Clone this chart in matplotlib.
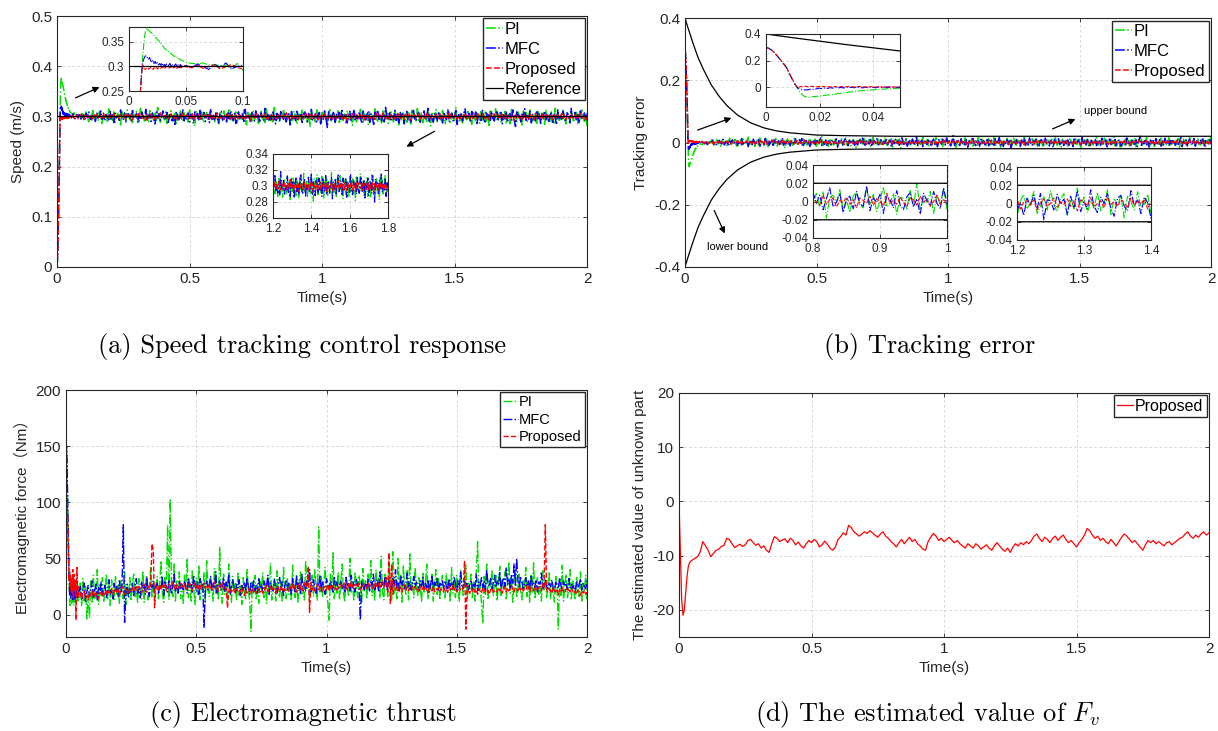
import numpy as np
import matplotlib.pyplot as plt
from matplotlib.ticker import FormatStrFormatter

plt.rcParams['font.family'] = ['Liberation Sans', 'DejaVu Sans', 'Noto Sans CJK SC']
plt.rcParams['mathtext.fontset'] = 'cm'

W, H = 1218, 731
ref_speed = 0.3

# ---- speed tracking error (units of 1e-3 m/s) ----
# start-up ramp, sampled every 1 ms (shared by all controllers)
err_ramp = [300, 292, 280, 262, 240, 215, 190, 165, 135, 90, 52, 15]
# 12 ms .. 49 ms, every 1 ms
err_pi_start = [-20, -46, -66, -74, -78, -73, -72, -69, -68, -64,
                -63, -59, -58, -54, -53, -47, -47, -42, -41, -37,
                -36, -32, -32, -28, -28, -25, -24, -21, -21, -18,
                -19, -15, -16, -13, -13, -11, -11, -9]
err_mfc_start = [-8, -15, -20, -22, -18, -14, -18, -12, -8, -13,
                 -6, -10, -4, -8, -3, -6, -2, -7, 1, -4,
                 -1, -5, 2, -3, -6, 0, -4, 2, -2, -5,
                 1, -3, 3, -4, -1, 2, -3, 0]
err_prop_start = [-3, 4, 6, 5, 3, 6, 4, 2, 5, 6,
                  3, 4, 1, 5, 3, 2, 4, 1, 3, 5,
                  2, 0, 3, 4, 1, 2, -1, 3, 2, 0,
                  4, 1, -2, 2, 3, 0, 1, -1]
# 0.05 s .. 2 s, every 5 ms
err_pi = [
    -8, -6, -5, -7, -3, -4, -1, -3, 5, -6, 8, -2, -9, 4, 11, -5, 2, -12, 7, 0,
    -4, 9, -10, 3, 14, -7, 1, -3, 10, -15, 6, -2, 8, -9, 12, -1, -6, 4, 17, -11,
    3, -5, 9, -13, 0, 7, -8, 15, -4, 2, -10, 6, 11, -16, 5, -2, 9, -7, 1, 13,
    -12, 4, -3, 10, -6, 8, -18, 3, 12, -5, -1, 7, -9, 14, -3, 5, -11, 2, 9, -8,
    16, -4, 1, -13, 6, 10, -7, 3, -2, 11, -15, 8, -5, 4, 19, -10, 0, 7, -6, -12,
    5, 13, -3, -8, 9, 1, -14, 6, -2, 12, -9, 4, 15, -7, -1, 8, -11, 3, 10, -5,
    -16, 7, 2, 11, -4, -9, 13, -6, 5, -1, 9, -13, 4, 17, -8, 1, -5, 10, -12, 6,
    3, -7, 14, -2, -10, 8, 0, 12, -15, 5, -3, 9, -6, 11, -18, 4, 7, -1, 13, -9,
    2, -12, 6, 10, -4, -7, 15, -3, 8, -11, 1, 16, -6, -2, 9, -14, 5, 3, -8, 12,
    -5, 20, -9, 4, -1, 11, -13, 7, -3, 14, -8, 2, -10, 6, 12, -4, -16, 9, 1, -6,
    10, -2, -11, 15, -7, 3, 8, -5, 13, -12, 0, 6, -9, 18, -3, -6, 11, -1, 4, -14,
    7, 12, -8, 2, -4, 16, -10, 5, -2, 9, -15, 3, 10, -6, 1, 13, -11, -3, 8, -7,
    14, -1, -9, 5, 11, -13, 4, -6, 17, -2, 7, -10, 3, -5, 12, -8, 1, 15, -12, 6,
    -3, 9, -16, 8, 2, -7, 13, -4, -1, 10, -11, 6, 19, -9, 0, 5, -14, 11, -2, -6,
    8, -12, 3, 15, -5, 1, -9, 12, -7, 4, 10, -17, 6, -1, 9, -4, 13, -10, 2, 7,
    -13, 5, -2, 16, -8, 3, 11, -6, -3, 14, -12, 7, 1, -9, 10, -5, 18, -11, 4, -1,
    9, -15, 6, 2, -7, 12, -4, 8, -10, 13, 0, -6, 15, -14, 3, 7, -2, 11, -9, 5,
    -3, 17, -11, 4, -8, 10, 1, -13, 6, 9, -5, -1, 14, -10, 2, 12, -7, -4, 16, -12,
    6, -2, 10, -9, 3, 13, -16, 5, -6, 11, -1, 8, -12, 4, 15, -7, 0, 9, -11, 3,
    12, -5, -8, 14, -3, 7, -13, 2, 10, -6, 18, -9, 1, -4, 11, -15, 6, 3, -10, 8]
err_mfc = [
    -2, 3, -5, 1, 6, -4, 2, -7, 5, 0, -3, 8, -6, 2, -9, 4, 7, -1, -5, 10,
    -8, 3, 1, -11, 6, -2, 9, -4, 0, 7, -10, 5, -3, 12, -6, 2, -1, 8, -13, 4,
    6, -7, 11, -2, -5, 3, 9, -12, 4, 0, -6, 13, -3, 7, -9, 1, 5, -14, 8, -1,
    -4, 10, -7, 2, 15, -9, 3, -5, 8, -1, -11, 6, 4, -8, 12, -3, -6, 9, -2, 16,
    -10, 1, 7, -5, 3, -13, 9, -2, 5, -7, 11, -4, 0, 14, -9, 2, -6, 8, -12, 5,
    3, -8, 10, -1, -4, 12, -15, 6, -2, 9, -7, 4, 13, -5, -10, 7, 1, -3, 11, -9,
    5, -12, 2, 8, -6, 14, -3, -9, 7, 0, -5, 10, -14, 3, 6, -2, 12, -8, -1, 9,
    -11, 4, -3, 13, -7, 1, 8, -16, 5, -4, 10, -2, 7, -9, 3, 15, -6, -1, 9, -12,
    2, 6, -8, 11, -3, -5, 17, -10, 4, -1, 8, -13, 6, 2, -7, 12, -4, -9, 5, 10,
    -6, 3, -14, 9, 1, -5, 11, -2, -8, 15, -3, 6, -11, 4, 22, -9, 0, 7, -5, -10,
    12, -4, 3, -8, 9, -15, 5, 1, -6, 13, -2, -10, 8, 4, -12, 10, -3, 6, -7, 2,
    14, -11, 0, 7, -4, -9, 12, -5, 3, 16, -8, 1, -13, 6, -2, 9, -6, 11, -18, 4,
    3, -7, 10, -1, 5, -12, 8, -4, 13, -9, 2, -6, 15, -3, -10, 7, 0, 11, -5, -14,
    6, 9, -3, -8, 14, -2, 4, -11, 7, 1, -16, 10, -5, 3, 12, -7, -1, 8, -10, 5,
    -4, 13, -9, 2, 6, -13, 11, -3, -6, 9, 0, -12, 16, -5, 4, -8, 10, -2, -15, 7,
    1, -6, 12, -10, 5, 3, -9, 14, -4, -1, 8, -14, 6, 11, -7, 2, -3, 10, -11, 4,
    9, -5, -12, 7, 2, -8, 15, -3, 4, -10, 12, -1, -6, 9, -13, 5, 20, -9, 1, -4,
    11, -7, 3, -15, 8, -2, 6, -10, 13, -4, 0, 9, -12, 5, -8, 14, -3, 2, -11, 7,
    -5, 10, -1, -9, 12, -6, 3, 17, -13, 4, -2, 8, -10, 6, 11, -7, -3, 13, -16, 5,
    2, -8, 9, -4, 14, -11, 6, 1, -7, 10, -3, -12, 8, 3, -9, 13, -5, 0, 11, -6]
err_prop = [
    1, 3, -2, 4, 0, -3, 5, 1, -4, 2, 6, -1, -5, 3, 0, 4, -2, 7, -3, 1,
    -4, 2, 5, -1, 3, -6, 1, 4, -2, 0, 6, -3, 2, -5, 4, 1, -1, 5, -4, 3,
    0, -2, 6, -5, 2, 3, -4, 7, -1, 1, -3, 5, -6, 2, 4, -2, 0, 8, -4, 1,
    3, -5, 2, -1, 6, -3, 4, 0, -7, 2, 5, -2, 1, -4, 3, 6, -5, 2, -1, 4,
    -3, 7, 0, -2, 4, -6, 3, 1, -4, 5, -1, 2, -5, 8, -2, 0, 3, -4, 6, -1,
    2, -5, 4, 1, -3, 6, -2, -4, 5, 0, 3, -7, 2, 4, -1, -3, 6, 1, -5, 3,
    -2, 5, -4, 2, 7, -3, 0, 4, -6, 1, 3, -2, 5, -5, 2, -1, 8, -4, 0, 3,
    -6, 2, 4, -1, -3, 5, 1, -5, 3, 6, -2, 0, -4, 7, -3, 2, 4, -6, 1, -1,
    5, -3, 2, -7, 4, 1, -2, 6, -4, 3, 0, -5, 9, -2, 1, -3, 5, -1, -6, 4,
    2, -4, 6, -1, 3, -5, 0, 7, -3, 2, -2, 5, -6, 1, 4, -3, 3, -1, 6, -5,
    1, 4, -3, 2, -6, 5, -1, 3, -4, 8, -2, 0, 4, -5, 2, 6, -3, -1, 5, -4,
    3, -2, 7, -5, 1, 2, -4, 5, -1, -3, 6, -6, 2, 3, -2, 4, -7, 1, 5, -3,
    0, 6, -4, 2, -1, 5, -3, 3, -8, 4, 1, -2, 6, -4, 0, 3, -5, 7, -1, 2,
    -3, 4, 1, -5, 6, -2, 3, -1, 5, -6, 2, -3, 8, -2, 1, 4, -4, 0, 3, -5,
    5, -1, -4, 3, 2, -6, 7, -3, 1, 4, -2, -5, 6, 0, -3, 5, -1, 2, -7, 4,
    1, -3, 5, -2, 4, -4, 0, 6, -5, 2, 3, -1, -6, 5, -2, 1, 7, -4, 3, -1,
    -5, 3, 2, -3, 6, -1, -4, 4, 1, -6, 5, -2, 3, 0, -4, 8, -3, 2, -1, 4,
    -2, 6, -5, 1, 3, -3, 5, -4, 2, -1, 7, -6, 1, 4, -2, 3, -5, 6, 0, -3,
    4, -1, 2, -5, 6, -3, 0, 5, -4, 3, 1, -6, 4, -2, 7, -1, -3, 5, -5, 2,
    3, -4, 1, 6, -2, -5, 4, 0, -3, 7, -1, 2, -6, 3, 5, -4, 1, -2, 6, -3]

# ---- prescribed performance bound ----
bound_t = [0, 0.01, 0.02, 0.03, 0.04, 0.05, 0.07, 0.1, 0.13, 0.16, 0.2,
           0.25, 0.3, 0.35, 0.4, 0.5, 0.6, 0.7, 0.8, 1.0, 1.5, 2.0]
bound_v = [0.4, 0.372, 0.346, 0.32, 0.296, 0.272, 0.235, 0.185, 0.148, 0.118, 0.088,
           0.063, 0.047, 0.037, 0.031, 0.024, 0.022, 0.021, 0.02, 0.02, 0.02, 0.02]

# ---- electromagnetic force (Nm) ----
# 0 .. 48 ms every 2 ms
force_pi_start = [0, 145, 120, 105, 80, 50, 30, 12, 8, 15, 22, 10, 18, 12, 25, 8, 20, 14, 28, 10,
                  22, 16, 30, 12, 20]
force_mfc_start = [0, 150, 135, 110, 85, 55, 30, 18, 25, 14, 22, 17, 28, 12, 20, 24, 15, 27, 13, 21,
                   18, 26, 14, 22, 19]
force_prop_start = [0, 60, 100, 90, 70, 45, 30, 38, 25, 35, 20, 32, 18, 40, 15, 28, 36, 22, 30, -5,
                    18, 42, 20, 25, 16]
# 0.05 s .. 2 s every 5 ms
force_pi = [
    15, 28, 8, 32, 12, 25, -4, 18, -3, 30, 10, 35, 14, 22, 40, 9, 27, 16, 33, 11,
    24, 36, 13, 29, 8, 31, 19, 12, 34, 17, 26, 10, 30, 21, 14, 38, 9, 27, 15, 33,
    12, 28, 36, 16, 24, 10, 32, 20, 14, 39, 11, 27, 35, 13, 25, 42, 15, 30, 12, 26,
    34, 14, 28, 48, 19, 11, 33, 22, 80, 13, 103, 25, 16, 45, 12, 30, 21, 38, 14, 27,
    10, 35, 22, 50, 15, 28, 12, 40, 24, 9, 33, 18, 44, 13, 29, 20, 37, 11, 48, 23,
    16, 32, 25, 12, 41, 19, 27, 14, 60, 22, 10, 36, 18, 30, 13, 45, 24, 11, 34, 20,
    28, 12, 38, 17, 26, 9, 33, 21, 14, 40, 23, 11, -15, 29, 18, 35, 13, 27, 10, 31,
    22, 37, 15, 28, 10, 34, 19, 46, 13, 25, 32, 12, 39, 20, 16, 30, 11, 42, 24, 14,
    33, 18, 27, 12, 44, 21, 15, 36, 10, 29, 38, 17, 24, 13, 48, 22, 31, 14, 26, 35,
    16, 40, 25, 12, 78, 20, 34, 15, 28, 42, 18, 11, -5, 36, 22, 55, 14, 30, 19, 38,
    13, 27, 45, 20, 11, 33, 24, 16, 50, 19, 29, 12, 38, 23, 15, 35, 26, 10, 41, 21,
    30, 14, 36, 22, 48, 17, 27, 12, 40, 25, 33, 15, 52, 20, 13, 37, 28, 16, 45, 24,
    12, 56, 19, 31, 14, 50, 22, 35, 11, 44, 26, 17, 39, 13, 54, 21, 30, 15, 42, 24,
    16, 33, 25, 11, 38, 20, 28, 45, 14, 30, 22, 36, 12, 27, 40, 18, 32, 13, 26, 35,
    20, 14, 37, 24, 30, 11, 42, 19, 27, 15, 35, 22, 12, 40, 26, 17, 31, 44, 13, 28,
    23, 36, 15, 29, 12, 38, 65, 20, 26, 10, -8, 34, 18, 45, 13, 30, 24, 40, 16, 27,
    35, 12, 28, 43, 17, 31, 22, 38, 14, 26, 47, 19, 33, 11, 29, 40, 15, 24, 36, 21,
    13, 30, 23, 42, 16, 28, 11, 35, 20, 46, 14, 27, 33, 18, 25, 12, 39, 22, 30, 15,
    26, 38, 13, 29, 20, 11, 34, 24, -13, 31, 17, 44, 12, 27, 36, 15, 23, 40, 14, 30,
    21, 13, 33, 25, 16, 38, 12, 28, 22, 35, 14, 30, 19, 26, 13, 34, 20, 27, 15, 24]
force_mfc = [
    18, 25, 14, 22, 28, 12, 20, 26, 16, 23, 30, 15, 21, 27, 13, 24, 19, 29, 17, 22,
    26, 15, 23, 31, 18, 22, 14, 28, 20, 25, 16, 30, 19, 24, 80, -7, 21, 27, 15, 23,
    20, 28, 17, 25, 32, 19, 23, 15, 29, 21, 26, 18, 33, 22, 16, 27, 24, 30, 19, 25,
    28, 19, 26, 22, 34, 17, 29, 24, 20, 31, 25, 18, 27, 36, 21, 26, 19, 30, 23, 28,
    22, 30, 25, 19, 33, 24, 28, 20, 35, 26, 21, 29, 18, 32, 25, 27, -12, 24, 30, 22,
    26, 34, 21, 28, 23, 38, 19, 27, 30, 22, 25, 33, 20, 29, 24, 36, 18, 26, 31, 23,
    19, 27, 24, 31, 17, 26, 22, 29, 20, 33, 25, 18, 28, 23, 30, 21, 26, 19, 32, 24,
    27, 20, 30, 23, 26, 35, 18, 28, 24, 21, 31, 25, 19, 27, 33, 22, 29, 17, 26, 30,
    22, 29, 25, 18, 32, 26, 20, 34, 23, 28, 19, 37, 24, 27, 21, 30, 25, 40, 20, 26,
    31, 23, 19, 28, 26, 35, 21, 29, 24, 18, 32, 27, 22, 30, 25, 20, 33, 26, 29, 23,
    25, 30, 22, 27, 19, 33, 26, 28, 21, 35, 24, 29, 20, 31, 26, 23, -5, 30, 27, 22,
    28, 24, 32, 21, 29, 26, 36, 22, 27, 31, 20, 38, 25, 29, 23, 34, 27, 21, 30, 26,
    22, 33, 27, 40, 24, 29, 21, 35, 26, 31, 23, 28, 37, 25, 30, 22, 27, 34, 24, 29,
    26, 21, 30, 25, 33, 22, 28, 24, 31, 20, 27, 35, 23, 29, 26, 32, 21, 28, 25, 30,
    23, 29, 26, 20, 32, 25, 28, 22, 34, 27, 21, 30, 24, 38, 26, 23, 31, 25, 29, 22,
    27, 31, 23, 28, 25, 36, 21, 29, 26, 33, 24, 30, 22, 40, 27, 25, 32, 23, 28, 35,
    24, 30, 26, 38, 22, 29, 33, 25, 42, 27, 31, 23, 36, 28, 45, 26, 50, 30, 24, 34,
    29, 23, 27, 33, 25, 30, 22, 35, 26, 28, 24, 31, 20, 29, 27, 37, 23, 26, 32, 25,
    22, 28, 25, 31, 24, 20, 29, 27, 23, 33, 26, 21, 30, 25, 28, 22, 32, 24, 27, 23,
    26, 21, 29, 24, 27, 32, 22, 28, 25, 23, 30, 26, 21, 27, 24, 29, 22, 26, 25, 20]
force_prop = [
    16, 19, 14, 18, 21, 15, 17, 13, 20, 16, 18, 22, 15, 19, 17, 14, 20, 18, 16, 21,
    18, 22, 17, 21, 19, 23, 18, 20, 24, 19, 22, 17, 21, 25, 20, 18, 23, 21, 19, 22,
    21, 24, 20, 23, 26, 21, 25, 22, 19, 24, 27, 22, 20, 25, 23, 26, 63, 58, 6, 24,
    25, 22, 27, 23, 26, 24, 28, 21, 25, 27, 23, 26, 29, 24, 22, 27, 25, 23, 28, 26,
    23, 27, 25, 22, 26, 28, 24, 21, 25, 29, 23, 26, 24, 22, 27, 25, 28, 23, 26, 24,
    27, 24, 22, 26, 29, 23, 25, 21, 27, 24, 28, 22, 25, 23, 6, 21, 24, 20, 23, 22,
    19, 23, 21, 18, 22, 24, 20, 17, 22, 19, 23, 21, 18, 24, 20, 22, 19, 21, 23, 20,
    22, 19, 24, 21, 26, 20, 23, 25, 21, 24, 22, 19, 25, 23, 20, 26, 22, 24, 21, 23,
    24, 21, 25, 23, 27, 22, 26, 20, 24, 28, 23, 25, 21, 30, 26, 24, 43, 2, 29, 22,
    25, 21, 24, 27, 22, 26, 23, 20, 25, 24, 22, 27, 21, 25, 23, 26, 22, 24, 21, 25,
    24, 27, 23, 26, 28, 25, 22, 27, 24, 29, 25, 23, 27, 26, 24, 28, 22, 26, 25, 27,
    26, 23, 28, 25, 27, 24, 22, 29, 26, 25, 28, 23, 27, 30, 24, 26, 33, 20, 55, 10,
    45, 18, 27, 22, 25, 21, 26, 23, 20, 24, 27, 22, 25, 21, 24, 26, 22, 23, 25, 21,
    23, 20, 25, 22, 24, 21, 26, 22, 19, 24, 23, 21, 25, 20, 23, 22, 24, 21, 23, 20,
    21, 24, 22, 20, 25, 23, 21, 26, 22, 24, 20, 23, 25, 21, 22, 24, 48, -13, 26, 21,
    19, 23, 21, 24, 20, 22, 18, 23, 21, 19, 24, 22, 20, 23, 21, 18, 22, 24, 20, 21,
    22, 20, 24, 21, 23, 19, 25, 22, 20, 24, 21, 23, 26, 22, 20, 24, 23, 21, 25, 22,
    24, 21, 23, 26, 22, 25, 20, 24, 23, 21, 26, 22, 24, 23, 25, 21, 27, 23, 80, 22,
    20, 23, 21, 19, 24, 22, 20, 23, 18, 22, 21, 24, 20, 19, 23, 21, 22, 20, 24, 21,
    19, 21, 18, 22, 20, 17, 21, 19, 22, 18, 20, 21, 19, 17, 21, 20, 18, 22, 19, 20]

# ---- estimated unknown part F_v ----
# 0 .. 45 ms every 5 ms
fv_start = [0, -9, -18, -21, -20, -17, -14, -12, -11.3, -11]
# 0.05 s .. 2 s every 10 ms
fv = [
    -10.8, -10.5, -10.2, -9.3, -7.4, -8.2, -9.0, -10.2, -9.6, -9.0,
    -8.8, -8.3, -8.1, -6.8, -7.0, -7.8, -8.5, -8.2, -7.9, -8.3,
    -8.0, -7.2, -7.0, -7.6, -8.1, -7.8, -8.6, -8.2, -9.0, -9.4,
    -7.8, -6.5, -6.8, -7.4, -7.1, -6.9, -7.6, -6.8, -7.2, -8.0,
    -7.5, -8.2, -8.6, -7.8, -7.2, -7.6, -7.0, -7.4, -8.4, -8.0,
    -7.3, -7.9, -8.6, -9.0, -8.4, -7.0, -6.5, -5.8, -6.2, -4.4,
    -4.8, -5.6, -6.0, -6.4, -6.0, -5.6, -5.9, -5.4, -5.8, -6.2,
    -6.6, -6.0, -5.6, -6.4, -6.8, -7.4, -7.8, -8.4, -7.6, -7.0,
    -7.8, -7.2, -6.6, -7.4, -7.0, -7.8, -8.2, -8.8, -9.0, -7.4,
    -6.6, -5.9, -6.4, -7.2, -6.8, -7.4, -7.0, -6.6, -7.2, -7.6,
    -7.2, -7.8, -8.2, -8.6, -7.8, -8.2, -8.6, -7.8, -8.2, -8.8,
    -8.4, -8.0, -8.6, -9.0, -8.2, -7.6, -8.2, -8.8, -9.2, -8.6,
    -9.4, -8.4, -7.8, -8.2, -7.6, -8.0, -7.4, -7.8, -7.2, -6.4,
    -6.0, -6.8, -7.4, -6.6, -7.0, -7.6, -6.8, -6.4, -7.2, -6.6,
    -6.2, -7.0, -7.6, -7.2, -7.8, -8.4, -7.6, -7.0, -6.2, -5.0,
    -5.4, -6.2, -6.8, -6.4, -7.2, -6.8, -7.4, -7.8, -7.0, -7.6,
    -8.2, -7.4, -6.6, -6.0, -6.4, -7.0, -7.6, -7.2, -7.8, -8.4,
    -9.0, -8.0, -7.2, -7.6, -7.2, -7.8, -7.4, -7.8, -8.2, -7.6,
    -7.4, -8.0, -7.6, -7.2, -6.8, -6.6, -6.0, -5.6, -6.4, -6.8,
    -6.2, -6.6, -6.0, -5.6, -6.2, -5.8]

labels = ['PI', 'MFC', 'Proposed']
colors = ['#00dd00', '#0000ff', '#ff0000']
styles = ['-.', '-.', '--']


def join(start, dt_start, main, t0, dt):
    t = np.concatenate([dt_start * np.arange(len(start)), t0 + dt * np.arange(len(main))])
    return t, np.concatenate([np.asarray(start, float), np.asarray(main, float)])


def px_axes(fig, x0, y0, x1, y1):
    return fig.add_axes([x0 / W, 1 - y1 / H, (x1 - x0) / W, (y1 - y0) / H])


def fig_xy(x, y):
    return (x / W, 1 - y / H)


def style(ax, fs):
    ax.tick_params(direction='in', top=True, right=True, labelsize=fs,
                   colors='#262626', length=3, width=0.6)
    ax.grid(True, ls=(0, (3, 3)), color='#cfcfcf', lw=0.6)
    for s in ax.spines.values():
        s.set_color('#262626')
        s.set_linewidth(0.8)
    ax.xaxis.set_major_formatter(FormatStrFormatter('%g'))
    ax.yaxis.set_major_formatter(FormatStrFormatter('%g'))


def arrow(fig, x0, y0, x1, y1):
    fig.add_artist(plt.Annotation('', xy=fig_xy(x1, y1), xytext=fig_xy(x0, y0),
                                  xycoords='figure fraction', textcoords='figure fraction',
                                  arrowprops=dict(arrowstyle='-|>', color='black', lw=0.9,
                                                  mutation_scale=9)))


def legend(ax, fs, sp):
    ax.legend(loc='upper right', fontsize=fs, handlelength=1.0, handletextpad=0.1,
              labelspacing=sp, borderpad=0.2, borderaxespad=0.15, fancybox=False,
              edgecolor='#262626', framealpha=1)


err_series = []
for st, mn in [(err_pi_start, err_pi), (err_mfc_start, err_mfc), (err_prop_start, err_prop)]:
    t, e = join(err_ramp + st, 0.001, mn, 0.05, 0.005)
    err_series.append((t, e / 1000.0))

force_series = [join(s, 0.002, m, 0.05, 0.005) for s, m in
                [(force_pi_start, force_pi), (force_mfc_start, force_mfc),
                 (force_prop_start, force_prop)]]
t_fv, v_fv = join(fv_start, 0.005, fv, 0.05, 0.01)
bt = np.array(bound_t)
bv = np.array(bound_v)

fig = plt.figure(figsize=(W / 100, H / 100), dpi=100)

# ---------- (a) speed ----------
axa = px_axes(fig, 57, 16, 587, 267)
for (t, e), lab, c, ls in zip(err_series, labels, colors, styles):
    axa.plot(t, ref_speed - e, color=c, ls=ls, lw=1.1, label=lab)
axa.plot([0, 2], [ref_speed, ref_speed], color='black', lw=0.9, label='Reference')
axa.set_xlim(0, 2)
axa.set_ylim(0, 0.5)
axa.set_xticks([0, 0.5, 1, 1.5, 2])
axa.set_yticks(np.arange(0, 0.51, 0.1))
style(axa, 11)
axa.set_xlabel('Time(s)', fontsize=11, color='#262626')
axa.set_ylabel('Speed (m/s)', fontsize=11, color='#262626')
legend(axa, 12, 0.3)

ins = px_axes(fig, 129, 27, 243, 91)
for (t, e), c, ls in zip(err_series, colors, styles):
    ins.plot(t, ref_speed - e, color=c, ls=ls, lw=0.8)
ins.plot([0, 2], [ref_speed, ref_speed], color='black', lw=0.9)
ins.set_xlim(0, 0.1)
ins.set_ylim(0.25, 0.38)
ins.set_xticks([0, 0.05, 0.1])
ins.set_yticks([0.25, 0.3, 0.35])
style(ins, 8.5)

ins = px_axes(fig, 273, 154, 388, 218)
for (t, e), c, ls in zip(err_series, colors, styles):
    ins.plot(t, ref_speed - e, color=c, ls=ls, lw=0.9)
ins.set_xlim(1.2, 1.8)
ins.set_ylim(0.26, 0.34)
ins.set_xticks([1.2, 1.4, 1.6, 1.8])
ins.set_yticks([0.26, 0.28, 0.3, 0.32, 0.34])
style(ins, 8.5)

arrow(fig, 73, 99, 102, 86)
arrow(fig, 437, 130, 404, 148)

# ---------- (b) tracking error ----------
axb = px_axes(fig, 685, 18, 1211, 267)
for (t, e), lab, c, ls in zip(err_series, labels, colors, styles):
    axb.plot(t, e, color=c, ls=ls, lw=1.1, label=lab)
axb.plot(bt, bv, color='black', lw=0.9)
axb.plot(bt, -bv, color='black', lw=0.9)
axb.set_xlim(0, 2)
axb.set_ylim(-0.4, 0.4)
axb.set_xticks([0, 0.5, 1, 1.5, 2])
axb.set_yticks([-0.4, -0.2, 0, 0.2, 0.4])
style(axb, 11)
axb.set_xlabel('Time(s)', fontsize=11, color='#262626')
axb.set_ylabel('Tracking error', fontsize=11, color='#262626')
legend(axb, 12, 0.3)

for (x0, y0, x1, y1), xl, yl, xt, yt in [
        ((766, 34, 900, 107), (0, 0.05), (-0.15, 0.4), [0, 0.02, 0.04], [0, 0.2, 0.4]),
        ((813, 165, 947, 238), (0.8, 1.0), (-0.04, 0.04), [0.8, 0.9, 1.0],
         [-0.04, -0.02, 0, 0.02, 0.04]),
        ((1017, 167, 1151, 240), (1.2, 1.4), (-0.04, 0.04), [1.2, 1.3, 1.4],
         [-0.04, -0.02, 0, 0.02, 0.04])]:
    ins = px_axes(fig, x0, y0, x1, y1)
    for (t, e), c, ls in zip(err_series, colors, styles):
        ins.plot(t, e, color=c, ls=ls, lw=0.8)
    ins.plot(bt, bv, color='black', lw=0.9)
    ins.plot(bt, -bv, color='black', lw=0.9)
    ins.set_xlim(*xl)
    ins.set_ylim(*yl)
    ins.set_xticks(xt)
    ins.set_yticks(yt)
    style(ins, 8.5)

fig.text(*fig_xy(1116, 111), 'upper bound', fontsize=8, ha='center', va='center')
fig.text(*fig_xy(738, 247), 'lower bound', fontsize=8, ha='center', va='center')
arrow(fig, 695, 131, 734, 117)
arrow(fig, 1050, 130, 1078, 118)
arrow(fig, 713, 208, 726, 236)

# ---------- (c) electromagnetic force ----------
axc = px_axes(fig, 66, 390, 587, 637)
for (t, f), lab, c, ls in zip(force_series, labels, colors, styles):
    axc.plot(t, f, color=c, ls=ls, lw=1.0, label=lab)
axc.set_xlim(0, 2)
axc.set_ylim(-20, 200)
axc.set_xticks([0, 0.5, 1, 1.5, 2])
axc.set_yticks([0, 50, 100, 150, 200])
style(axc, 11)
axc.set_xlabel('Time(s)', fontsize=11, color='#262626')
axc.set_ylabel('Electromagnetic force（Nm）', fontsize=11, color='#262626')
legend(axc, 10.5, 0.25)

# ---------- (d) estimated F_v ----------
axd = px_axes(fig, 679, 393, 1209, 637)
axd.plot(t_fv, v_fv, color='#ff0000', lw=0.9, label='Proposed')
axd.set_xlim(0, 2)
axd.set_ylim(-25, 20)
axd.set_xticks([0, 0.5, 1, 1.5, 2])
axd.set_yticks([-20, -10, 0, 10, 20])
style(axd, 11)
axd.set_xlabel('Time(s)', fontsize=11, color='#262626')
axd.set_ylabel('The estimated value of unknown part', fontsize=11, color='#262626')
legend(axd, 11.5, 0.2)

# ---------- captions ----------
cap = dict(fontsize=19, family='cmr10', ha='center', va='center')
fig.text(*fig_xy(302, 346), '(a) Speed tracking control response', **cap)
fig.text(*fig_xy(930, 346), '(b) Tracking error', **cap)
fig.text(*fig_xy(303, 714), '(c) Electromagnetic thrust', **cap)
fig.text(*fig_xy(928, 714), '(d) The estimated value of $F_v$', **cap)

fig.savefig('out.png', dpi=100)
